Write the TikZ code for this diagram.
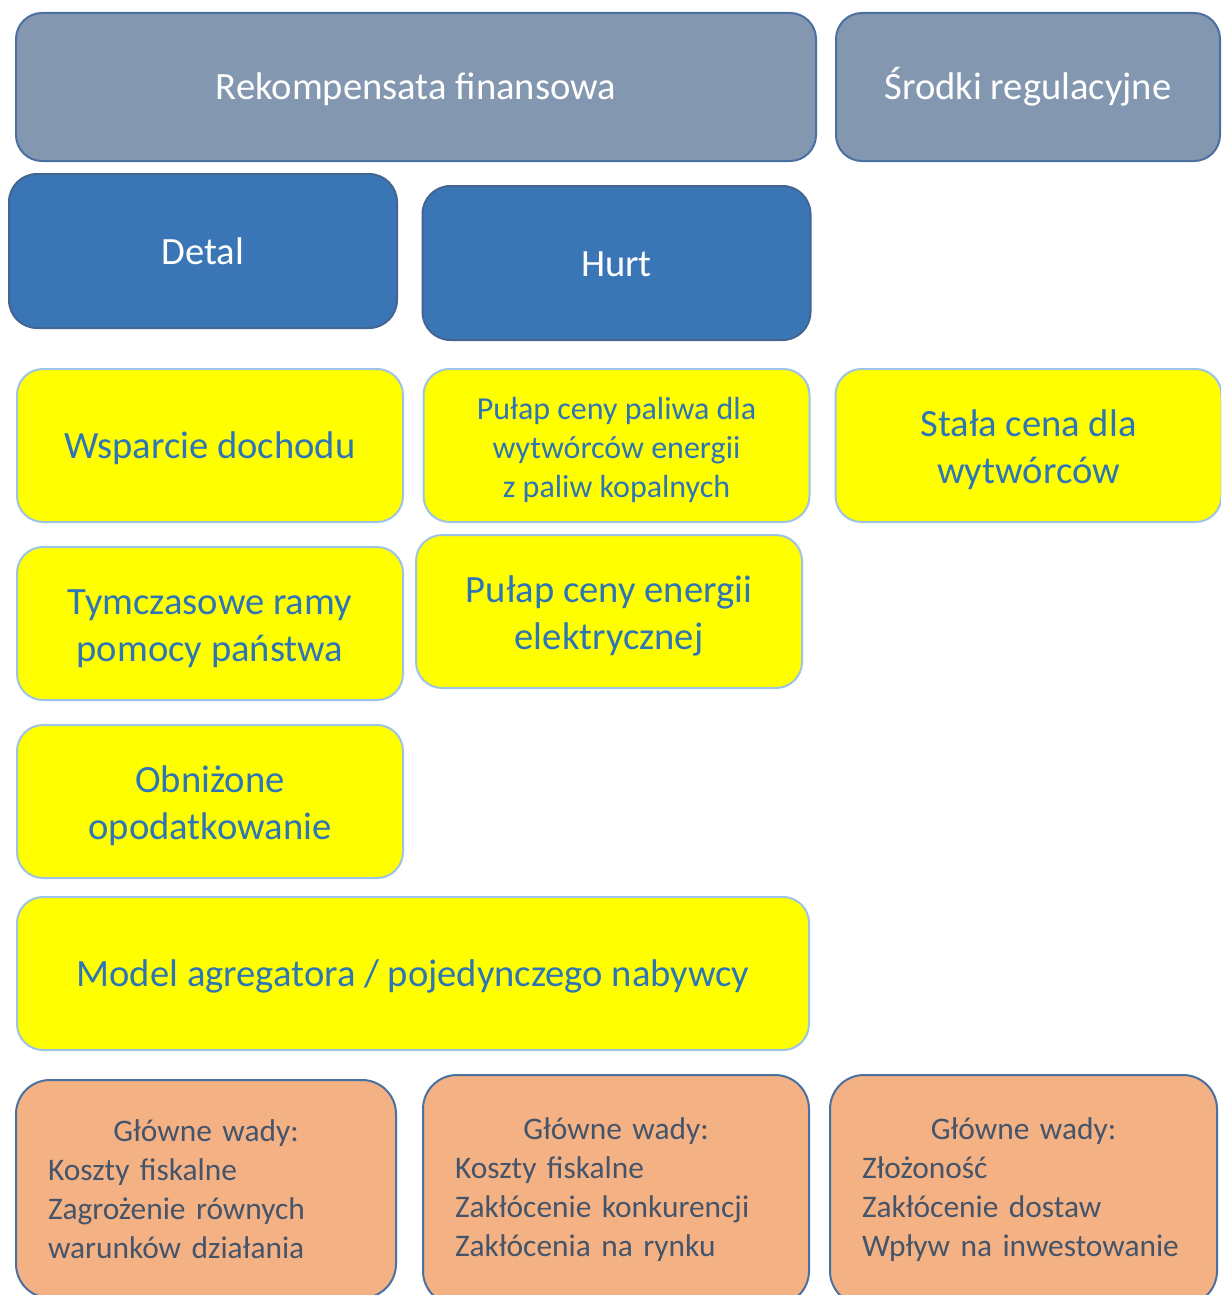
\documentclass[tikz,border=0pt]{standalone}
\usepackage{fontspec}
\setmainfont{Carlito}
\usepackage[HTML]{xcolor}
\usepackage{tikz}
\usetikzlibrary{positioning}

\definecolor{szary}{HTML}{8497B0}
\definecolor{ramka}{HTML}{4A70A0}
\definecolor{niebieski}{HTML}{3A76B6}
\definecolor{zolty}{HTML}{FFFF00}
\definecolor{jasnaramka}{HTML}{9DC3E6}
\definecolor{tekstzolty}{HTML}{2E75B6}
\definecolor{pomarancz}{HTML}{F4B183}
\definecolor{tekstwady}{HTML}{44546A}

\begin{document}
\begin{tikzpicture}[x=0.5pt,y=-0.5pt,
  jedna/.style={text height=13pt, text depth=0pt},
  dwie/.style={text height=37.5pt, text depth=0pt},
  trzy/.style={text height=51.8pt, text depth=0pt},
  naglowek/.style={draw=ramka, line width=1pt, fill=szary, rounded corners=13pt,
    text=white, font=\fontsize{19.3}{23}\selectfont, minimum height=74pt, jedna},
  rynek/.style={draw=ramka!90!black, line width=1pt, fill=niebieski, rounded corners=14pt,
    text=white, font=\fontsize{19.3}{23}\selectfont, minimum width=194pt,
    minimum height=77pt, jedna},
  srodek/.style={draw=jasnaramka, line width=1pt, fill=zolty, rounded corners=13pt,
    text=tekstzolty, font=\fontsize{19.3}{23.5}\selectfont, align=center,
    minimum width=193pt, minimum height=76.5pt},
  wada/.style={draw=ramka, line width=1pt, fill=pomarancz, rounded corners=17pt,
    text=tekstwady, font=\fontsize{15.7}{19.5}\selectfont, align=left,
    text width=158pt, inner xsep=16pt},
]
\useasboundingbox (0,0) rectangle (1221,1295);
\clip (0,0) rectangle (1221,1295);

% top row
\node[naglowek, minimum width=400pt] (fin) at (416,87) {Rekompensata finansowa};
\node[naglowek, minimum width=192pt] (reg) at (1028,87) {Środki regulacyjne};

% retail / wholesale
\node[rynek] (detal) at (203,251) {Detal};
\node[rynek] (hurt) at (616.5,263) {Hurt};

% measures
\node[srodek, jedna] (wsparcie) at (210,445.5) {Wsparcie dochodu};
\node[srodek, trzy, font=\fontsize{16}{19.5}\selectfont] (paliwo) at (616.5,445.5)
  {Pułap ceny paliwa dla\\wytwórców energii\\z paliw kopalnych};
\node[srodek, dwie] (stala) at (1028.5,445.5) {Stała cena dla\\wytwórców};
\node[srodek, dwie] (ramy) at (210,623.5) {Tymczasowe ramy\\pomocy państwa};
\node[srodek, dwie] (energia) at (609,611.5) {Pułap ceny energii\\elektrycznej};
\node[srodek, dwie] (podatek) at (210,801.5) {Obniżone\\opodatkowanie};
\node[srodek, jedna, minimum width=396pt] (model) at (413,973.5)
  {Model agregatora / pojedynczego nabywcy};

% drawbacks
\node[wada, minimum height=109pt, anchor=north] (wada1) at (206,1079)
  {{\centering Główne wady:\par}Koszty fiskalne\\Zagrożenie równych\\warunków działania};
\node[wada, text width=161pt, minimum height=115pt, anchor=north] (wada2) at (616,1074)
  {{\centering Główne wady:\par}Koszty fiskalne\\Zakłócenie konkurencji\\Zakłócenia na rynku};
\node[wada, text width=161.5pt, minimum height=115pt, anchor=north] (wada3) at (1023.5,1074)
  {{\centering Główne wady:\par}Złożoność\\Zakłócenie dostaw\\Wpływ na inwestowanie};
\end{tikzpicture}
\end{document}
